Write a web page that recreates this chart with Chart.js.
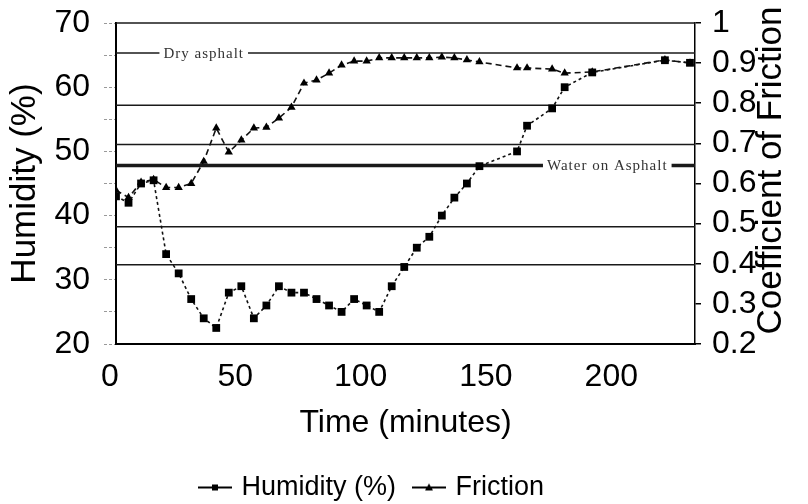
<!DOCTYPE html>
<html>
<head>
<meta charset="utf-8">
<script src="https://cdn.jsdelivr.net/npm/chart.js@4.4.1/dist/chart.umd.min.js"></script>
<style>
    html, body { margin: 0; padding: 0; background: #fff; }
    canvas { display: block; }
</style>
</head>
<body>
<canvas id="grafico" width="808" height="504"></canvas>
<script>
// time of each reading, minutes
const minutes = [
    0, 5, 10, 15, 20, 25, 30, 35, 40, 45, 50, 55, 60, 65, 70, 75, 80, 85, 90, 95,
    100, 105, 110, 115, 120, 125, 130, 135, 140, 145, 160, 164, 174, 179, 190, 219, 229
];

// relative humidity, %
const humidity = [
    43, 42, 45, 45.5, 34, 31, 27, 24, 22.5, 28, 29, 24, 26, 29, 28, 28, 27, 26, 25, 27,
    26, 25, 29, 32, 35, 36.7, 40, 42.8, 45, 47.7, 50, 54, 56.7, 60, 62.3, 64.2, 63.8
];

// measured coefficient of friction
const friction = [
    0.583, 0.565, 0.603, 0.61, 0.59, 0.59, 0.6, 0.655, 0.738, 0.678, 0.708, 0.738, 0.74, 0.763, 0.79, 0.85, 0.858, 0.875, 0.895, 0.905,
    0.905, 0.913, 0.913, 0.913, 0.913, 0.913, 0.915, 0.913, 0.908, 0.903, 0.888, 0.888, 0.885, 0.875, 0.878, 0.908, 0.9
];

// reference friction of road surfaces
const surfaceFriction = [0.925, 0.795, 0.6975, 0.645, 0.4925, 0.3975];
const surfaceNames = ['Dry asphalt', '', '', 'Water on Asphalt', '', ''];

const X_MAX = 231;
const FONTE = '"Liberation Sans", Arial, sans-serif';

const pontos = valores => valores.map((v, i) => ({ x: minutes[i], y: v }));

// small line-with-marker swatches for the legend
function amostra(tipo) {
    const c = document.createElement('canvas');
    c.width = 34;
    c.height = 12;
    const g = c.getContext('2d');
    g.strokeStyle = '#000';
    g.lineWidth = 2;
    g.beginPath();
    g.moveTo(0, 6);
    g.lineTo(34, 6);
    g.stroke();
    g.fillStyle = '#000';
    if (tipo === 'rect') {
        g.fillRect(14, 3, 6, 6);
    } else {
        g.beginPath();
        g.moveTo(17, 2);
        g.lineTo(21, 9);
        g.lineTo(13, 9);
        g.closePath();
        g.fill();
    }
    return c;
}
const amostras = [amostra('rect'), amostra('triangle')];

const linhasReferencia = surfaceFriction.map((v, i) => ({
    label: surfaceNames[i] || 'surface',
    referencia: true,
    data: [{ x: 0, y: v }, { x: X_MAX, y: v }],
    yAxisID: 'y1',
    borderColor: '#1a1a1a',
    borderWidth: surfaceNames[i] === 'Water on Asphalt' ? 3.5 : 1.5,
    pointRadius: 0
}));

// surface names sit on their line in a white box; right title reads upward
const rotulosPlugin = {
    id: 'rotulos',
    afterLayout(chart, args, opts) {
        // legend sits a little left of centre
        chart.legend.left -= opts.legendShift;
        chart.legend.right -= opts.legendShift;
    },
    afterDatasetsDraw(chart, args, opts) {
        const { ctx, chartArea, scales: { x, y1 } } = chart;
        ctx.save();
        ctx.strokeStyle = '#1a1a1a';
        ctx.lineWidth = 1.5;
        ctx.beginPath();
        ctx.moveTo(chartArea.left, chartArea.top);
        ctx.lineTo(chartArea.right, chartArea.top);
        ctx.stroke();

        ctx.font = '15px "Liberation Serif", serif';
        ctx.letterSpacing = '1px';
        ctx.textAlign = 'center';
        ctx.textBaseline = 'middle';
        surfaceNames.forEach((nome, i) => {
            if (!nome) return;
            const cx = x.getPixelForValue(opts.at[nome]);
            const cy = y1.getPixelForValue(surfaceFriction[i]);
            const w = ctx.measureText(nome).width;
            ctx.fillStyle = '#fff';
            ctx.fillRect(cx - w / 2 - 4, cy - 9, w + 8, 18);
            ctx.fillStyle = '#333';
            ctx.fillText(nome, cx, cy + 1);
        });
        ctx.restore();
    },
    afterDraw(chart) {
        const { ctx, chartArea, scales: { y1 } } = chart;
        ctx.save();
        ctx.translate(y1.left + 76, (chartArea.top + chartArea.bottom) / 2 - 13);
        ctx.rotate(-Math.PI / 2);
        ctx.font = `35px ${FONTE}`;
        ctx.fillStyle = '#000';
        ctx.textAlign = 'center';
        ctx.textBaseline = 'middle';
        ctx.fillText('Coefficient of Friction', 0, 0);
        ctx.restore();
    }
};

new Chart(document.getElementById('grafico'), {
    type: 'line',
    data: {
        datasets: [
            {
                label: 'Humidity (%)',
                data: pontos(humidity),
                yAxisID: 'y',
                borderColor: '#111',
                backgroundColor: '#000',
                borderWidth: 1.6,
                borderDash: [3, 3],
                pointStyle: 'rect',
                pointRadius: 5.5,
                pointBorderWidth: 0
            },
            {
                label: 'Friction',
                data: pontos(friction),
                yAxisID: 'y1',
                borderColor: '#111',
                backgroundColor: '#000',
                borderWidth: 1.6,
                borderDash: [6, 4],
                pointStyle: 'triangle',
                pointRadius: 4.8,
                pointBorderWidth: 0
            },
            ...linhasReferencia
        ]
    },
    options: {
        responsive: false,
        animation: false,
        devicePixelRatio: 1,
        layout: { padding: { top: 0, left: 0, right: 0, bottom: -7 } },
        plugins: {
            tooltip: { enabled: false },
            rotulos: { at: { 'Dry asphalt': 35, 'Water on Asphalt': 196 }, legendShift: 31 },
            legend: {
                position: 'bottom',
                labels: {
                    color: '#000',
                    font: { family: FONTE, size: 27 },
                    usePointStyle: true,
                    pointStyleWidth: 26,
                    padding: 20,
                    generateLabels: chart => Chart.defaults.plugins.legend.labels.generateLabels(chart)
                        .filter(item => !chart.data.datasets[item.datasetIndex].referencia)
                        .map(item => ({ ...item, pointStyle: amostras[item.datasetIndex] }))
                }
            }
        },
        scales: {
            x: {
                type: 'linear',
                min: 0,
                max: X_MAX,
                afterFit: s => { s.height = 110; },
                ticks: {
                    stepSize: 50,
                    includeBounds: false,
                    color: '#000',
                    font: { family: FONTE, size: 32 },
                    padding: 14,
                    labelOffset: -6,
                    maxRotation: 0
                },
                grid: { display: false, drawTicks: false },
                border: { display: true, color: '#000', width: 2 },
                title: {
                    display: true,
                    text: 'Time (minutes)',
                    color: '#000',
                    font: { family: FONTE, size: 32 },
                    padding: { top: 0, bottom: 12 }
                }
            },
            y: {
                position: 'left',
                min: 20,
                max: 70,
                afterFit: s => { s.width = 116; },
                ticks: {
                    stepSize: 5,
                    autoSkip: false,
                    color: '#000',
                    // short line height keeps the top label overhang at 23px
                    font: { family: FONTE, size: 32, lineHeight: 0.5625 },
                    padding: 14,
                    callback: v => (v % 10 === 0 ? v : '')
                },
                grid: {
                    drawOnChartArea: false,
                    tickLength: 12,
                    color: '#999',
                    tickBorderDash: [3, 2]
                },
                border: { display: true, color: '#000', width: 2 },
                title: {
                    display: true,
                    text: 'Humidity (%)',
                    color: '#000',
                    font: { family: FONTE, size: 35 },
                    padding: { top: 4, bottom: 0 }
                }
            },
            y1: {
                position: 'right',
                min: 0.2,
                max: 1,
                afterFit: s => { s.width = 113; },
                ticks: {
                    stepSize: 0.1,
                    autoSkip: false,
                    color: '#000',
                    font: { family: FONTE, size: 32, lineHeight: 0.75 },
                    padding: 11,
                    callback: v => Number(v.toFixed(1))
                },
                grid: { drawOnChartArea: false, tickLength: 6, color: '#000', lineWidth: 1.5 },
                border: { display: true, color: '#000', width: 1.5 }
            }
        }
    },
    plugins: [rotulosPlugin]
});
</script>
</body>
</html>
